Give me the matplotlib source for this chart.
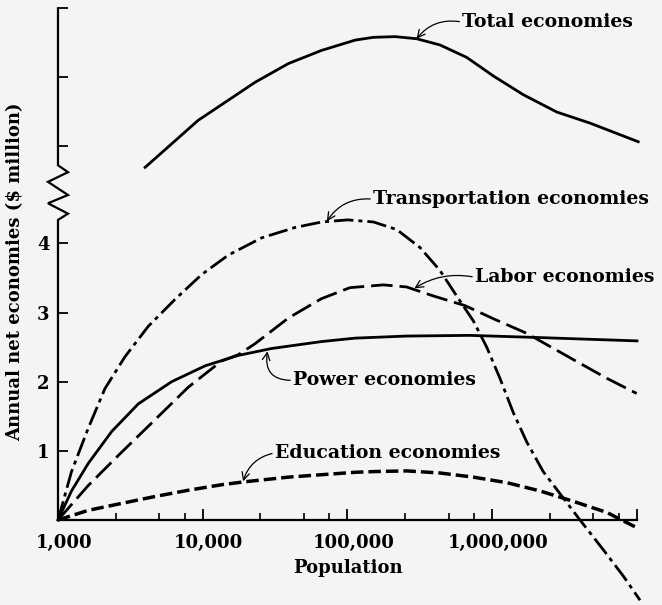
import numpy as np
import matplotlib
matplotlib.use("Agg")
import matplotlib.pyplot as plt
import matplotlib.transforms as mtransforms

plt.rcParams['font.family'] = ['DejaVu Serif']
plt.rcParams['font.weight'] = 'bold'
plt.rcParams['axes.labelweight'] = 'bold'
plt.rcParams['lines.scale_dashes'] = False

# population (x) and annual net economies in $ million (y), read per curve
total_pop = [4000, 6100, 9300, 15000, 23000, 39000, 66000, 113000, 151000,
             213000, 300000, 435000, 666000, 1.02e6, 1.64e6, 2.79e6, 4.73e6,
             1.02e7]
total_val = [5.10, 5.44, 5.78, 6.07, 6.33, 6.60, 6.79, 6.94, 6.98,
             6.99, 6.96, 6.87, 6.69, 6.42, 6.15, 5.90, 5.74,
             5.47]

transport_pop = [1000, 1240, 1620, 2110, 2900, 4200, 6430, 9840, 15000, 25500,
                 43400, 66400, 100000, 151000, 219000, 317000, 435000, 568000,
                 740000, 916000, 1.13e6, 1.40e6, 1.73e6, 2.25e6, 2.94e6,
                 4.04e6, 5.85e6, 8.04e6, 1.05e7]
transport_val = [0, 0.70, 1.33, 1.90, 2.36, 2.80, 3.19, 3.55, 3.83, 4.08,
                 4.23, 4.31, 4.34, 4.31, 4.20, 3.94, 3.61, 3.24,
                 2.88, 2.50, 2.05, 1.55, 1.13, 0.70, 0.38,
                 0.0, -0.43, -0.81, -1.16]

labor_pop = [1000, 1620, 2750, 4680, 7940, 13500, 17600, 23000, 39000, 66000,
             104000, 177000, 256000, 392000, 649000, 1.02e6, 1.73e6, 3.63e6,
             6.18e6, 9.95e6]
labor_val = [0, 0.50, 0.98, 1.45, 1.92, 2.30, 2.39, 2.55, 2.92, 3.20,
             3.36, 3.40, 3.37, 3.24, 3.10, 2.91, 2.70, 2.32,
             2.05, 1.83]

power_pop = [1000, 1240, 1620, 2350, 3590, 6100, 10400, 17600, 29900, 66000,
             113000, 256000, 700000, 2.0e6, 1.0e7]
power_val = [0, 0.42, 0.82, 1.28, 1.68, 2.00, 2.23, 2.38, 2.48, 2.58,
             2.63, 2.66, 2.67, 2.64, 2.59]

education_pop = [1000, 1620, 2750, 4680, 7940, 13500, 19000, 39000, 113000,
                 151000, 256000, 435000, 740000, 1.26e6, 2.14e6, 3.63e6,
                 6.18e6, 9.95e6]
education_val = [0, 0.14, 0.24, 0.34, 0.43, 0.51, 0.55, 0.62, 0.69,
                 0.70, 0.71, 0.68, 0.62, 0.54, 0.42, 0.27,
                 0.11, -0.11]

x_ticks = [1e3, 1e4, 1e5, 1e6, 1e7]
x_labels = ['1,000', '10,000', '100,000', '1,000,000', '']
y_ticks = [1, 2, 3, 4]
y_upper_ticks = [5.41, 6.40, 7.40]   # unlabelled ticks above the break

fig = plt.figure(figsize=(6.62, 6.05), dpi=100, facecolor='#f4f4f4')
ax = fig.add_axes([0.0876, 0.1405, 0.8746, 0.8458])
ax.set_facecolor('#f4f4f4')

ax.set_xscale('log')
ax.set_xlim(1e3, 1e7)
ax.set_ylim(0, 7.40)

style = dict(color='black', clip_on=False, solid_joinstyle='round',
             dash_joinstyle='round')
ax.plot(total_pop, total_val, lw=2.0, **style)
ax.plot(transport_pop, transport_val, lw=2.0, dashes=(14, 3.6, 2.9, 3.6),
        **style)
ax.plot(labor_pop, labor_val, lw=2.0, dashes=(15.5, 5), **style)
ax.plot(power_pop, power_val, lw=2.0, **style)
ax.plot(education_pop, education_val, lw=2.5, dashes=(9, 3.6), **style)

# only the bottom spine is kept; the left one is drawn by hand with a break
for s in ['top', 'right', 'left']:
    ax.spines[s].set_visible(False)
ax.spines['bottom'].set_linewidth(1.6)

ax.set_xticks(x_ticks)
ax.set_xticklabels(x_labels)
ax.set_xticks([m * d for d in [1e3, 1e4, 1e5, 1e6] for m in (2.5, 5, 7.5)],
              minor=True)
ax.tick_params(axis='x', which='major', direction='in', length=8, width=1.3,
               labelsize=13, pad=10)
ax.tick_params(axis='x', which='minor', direction='in', length=5, width=1.2)
shift = mtransforms.ScaledTranslation(0.06, 0, fig.dpi_scale_trans)
for lab in ax.get_xticklabels():
    lab.set_transform(lab.get_transform() + shift)

ax.set_yticks(y_ticks + y_upper_ticks)
ax.set_yticklabels([str(t) for t in y_ticks] + [''] * len(y_upper_ticks))
ax.tick_params(axis='y', direction='in', length=7, width=1.3, labelsize=13,
               pad=6)

# left axis line with zigzag break
axis_w_px = 0.8746 * 662
zz = 10.0 / axis_w_px
zig_x = np.array([0, 0, 1, -1, 1, -1, 1, 0, 0]) * zz
zig_y = [0, 4.34, 4.43, 4.58, 4.70, 4.89, 5.03, 5.13, 7.40]
trans = mtransforms.blended_transform_factory(ax.transAxes, ax.transData)
ax.plot(zig_x, zig_y, color='black', lw=1.6, transform=trans, clip_on=False,
        solid_joinstyle='miter')

ax.set_xlabel('Population', fontsize=13, labelpad=5)
ax.set_ylabel('Annual net economies ($ million)', fontsize=13)
ax.yaxis.set_label_coords(-0.058, 0.485)

arrow = dict(arrowstyle='->', color='black', lw=0.9, shrinkA=0, shrinkB=0,
             relpos=(0, 0.5))
fs = 13.6
ax.annotate('Total economies', xy=(300000, 6.96), xytext=(620000, 7.20),
            fontsize=fs, va='center', ha='left',
            arrowprops=dict(arrow, connectionstyle='arc3,rad=0.3'))
ax.annotate('Transportation economies', xy=(72000, 4.32),
            xytext=(150000, 4.64), fontsize=fs, va='center', ha='left',
            arrowprops=dict(arrow, connectionstyle='arc3,rad=0.3'))
ax.annotate('Labor economies', xy=(290000, 3.35), xytext=(760000, 3.51),
            fontsize=fs, va='center', ha='left',
            arrowprops=dict(arrow, connectionstyle='arc3,rad=0.2'))
ax.annotate('Power economies', xy=(28000, 2.44), xytext=(42000, 2.02),
            fontsize=fs, va='center', ha='left',
            arrowprops=dict(arrow, connectionstyle='arc3,rad=-0.6'))
ax.annotate('Education economies', xy=(19000, 0.56), xytext=(31500, 0.97),
            fontsize=fs, va='center', ha='left',
            arrowprops=dict(arrow, connectionstyle='arc3,rad=0.3'))

fig.savefig('out.png', dpi=100, facecolor=fig.get_facecolor())
